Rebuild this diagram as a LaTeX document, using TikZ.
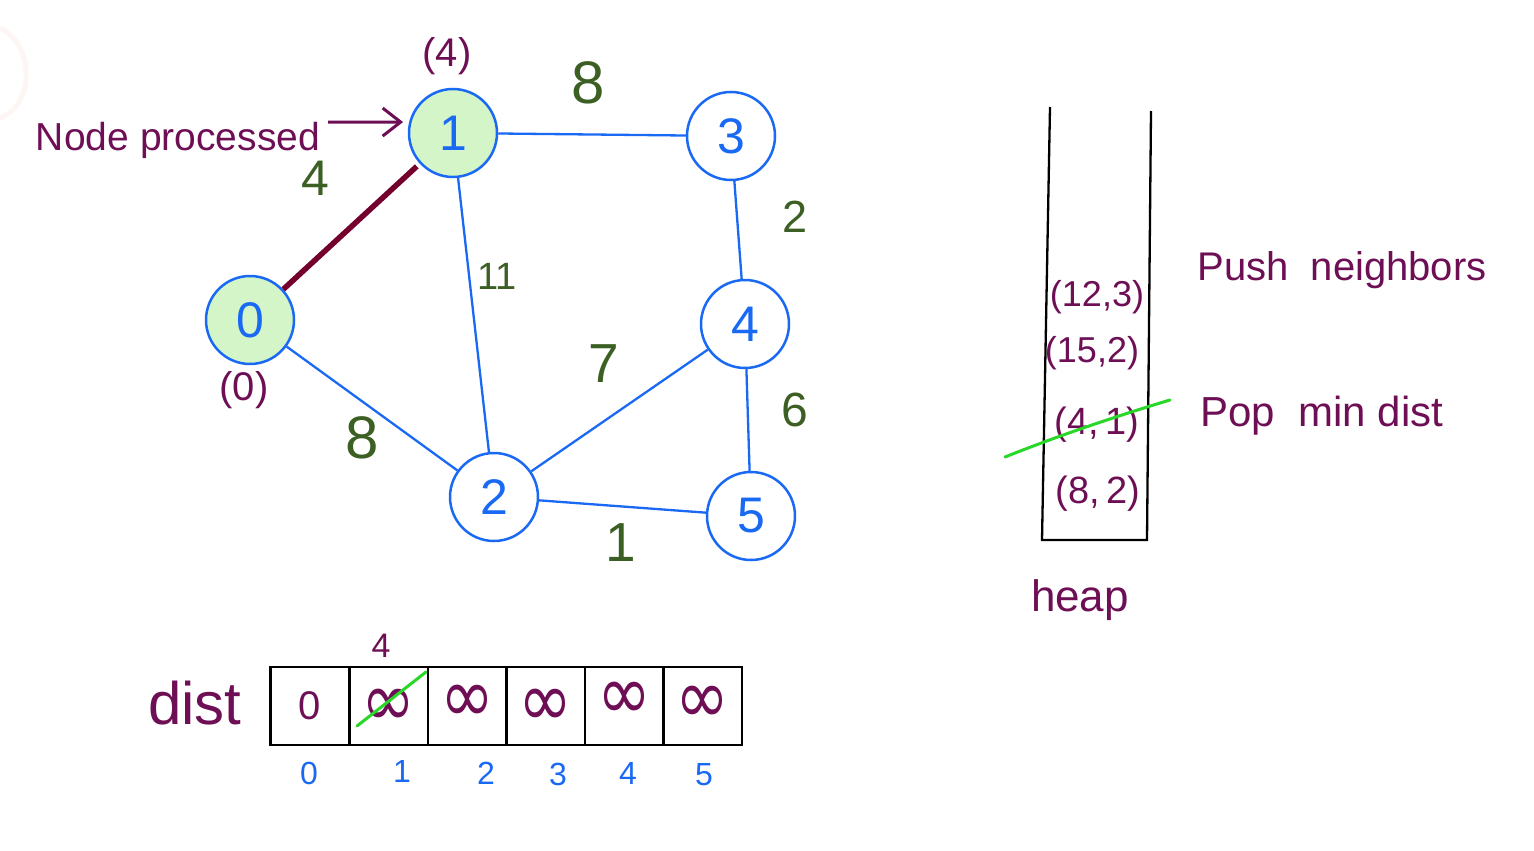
\documentclass[tikz,border=0pt]{standalone}
\usepackage{fontspec}
\setmainfont{Liberation Sans}
\newfontfamily\djfont{DejaVu Sans}
\usetikzlibrary{arrows.meta}
\definecolor{nblue}{RGB}{25,105,245}
\definecolor{nfill}{RGB}{212,245,200}
\definecolor{mar}{RGB}{110,15,85}
\definecolor{tedge}{RGB}{115,0,45}
\definecolor{wgreen}{RGB}{60,95,35}
\definecolor{sgreen}{RGB}{40,215,40}
\newcommand{\fsz}[1]{\fontsize{#1}{#1}\selectfont}
\newcommand{\infsym}[1]{\raisebox{#1}[0pt][0pt]{\scalebox{1.35}[1.6]{\djfont\fsz{48}∞}}}
\begin{document}
\begin{tikzpicture}[x=1pt,y=-1pt,
  vert/.style={circle,draw=nblue,line width=2.5pt,minimum size=88pt,inner sep=0pt,text=nblue,font=\fsz{50}},
  done/.style={vert,fill=nfill},
  edge/.style={draw=nblue,line width=2.3pt},
  wlab/.style={text=wgreen,inner sep=0pt},
  mtext/.style={text=mar,inner sep=0pt},
  cell/.style={draw=black,line width=2.5pt,minimum width=78.5pt,minimum height=78pt,inner sep=0pt,text=mar},
  idx/.style={text=nblue,inner sep=0pt,font=\fsz{32}},
  strike/.style={draw=sgreen,line width=3pt,line cap=round}]
\useasboundingbox (0,0) rectangle (1534,851);
\fill[white] (0,0) rectangle (1534,851);
% faint artifact
\draw[color={rgb,255:red,254;green,246;blue,244},line width=5pt] (0,28) .. controls (35,45) and (35,105) .. (0,118);

% vertices
\node[done] (n0) at (250,320) {0};
\node[done] (n1) at (453,133) {1};
\node[vert] (n3) at (731,136) {3};
\node[vert] (n4) at (745,324) {4};
\node[vert] (n2) at (494,497) {2};
\node[vert] (n5) at (751,516) {5};

% edges
\draw[edge] (n1) -- (n3);
\draw[edge] (n3) -- (n4);
\draw[edge] (n1) -- (n2);
\draw[edge] (n0) -- (n2);
\draw[edge] (n2) -- (n4);
\draw[edge] (n4) -- (n5);
\draw[edge] (n2) -- (n5);
\draw[draw=tedge,line width=5.5pt,shorten >=4pt] (n0) -- (n1);

% weights
\node[wlab,font=\fsz{60}] (w13) at (588,83) {8};
\node[wlab,font=\fsz{50}] (w01) at (315,178) {4};
\node[wlab,font=\fsz{45}] (w34) at (795,217) {2};
\node[wlab,font=\fsz{38}] (w12) at (497,276) {11};
\node[wlab,font=\fsz{55}] (w24) at (604,364) {7};
\node[wlab,font=\fsz{60}] (w02) at (362,438) {8};
\node[wlab,font=\fsz{48}] (w45) at (795,410) {6};
\node[wlab,font=\fsz{55}] (w25) at (621,543) {1};

% distance labels
\node[mtext,font=\fsz{40}] (d1) at (447,56) {(4)};
\node[mtext,font=\fsz{40}] (d0) at (244,390) {(0)};

% node processed
\node[mtext,font=\fsz{39}] (np) at (178,140) {Node processed};
\coordinate (arS) at (328,122);
\draw[draw=mar,line width=3pt,shorten >=6pt,-{Straight Barb[length=18pt,width=28pt,line width=3pt]}] (arS) -- (n1.166);

% heap
\draw[black,line width=2.3pt] (1050,107) -- (1042,540) -- (1147,540) -- (1151,111);
\node[mtext,font=\fsz{36}] (h1) at (1097,297) {(12,3)};
\node[mtext,font=\fsz{36}] (h2) at (1092,353) {(15,2)};
\node[mtext,font=\fsz{38}] (h3) at (1097,425) {(4,\,1)};
\node[mtext,font=\fsz{38}] (h4) at (1098,494) {(8,\,2)};
\coordinate (sa) at (1005,457);
\coordinate (sb) at (1170,400);
\draw[strike] (sa) .. controls (1060,435) and (1120,415) .. (sb);
\node[mtext,font=\fsz{40}] (push) at (1342,270) {Push\ \ neighbors};
\node[mtext,font=\fsz{42}] (pop) at (1322,416) {Pop\ \ min dist};
\node[mtext,font=\fsz{44}] (heap) at (1080,600) {heap};

% dist array
\node[mtext,font=\fsz{60}] (distl) at (195,703) {dist};
\node[cell,font=\fsz{40}] (c0) at (309.5,706) {0};
\node[cell] (c1) at (388.5,706) {\infsym{-20pt}};
\node[cell] (c2) at (467,706) {\infsym{-16pt}};
\node[cell] (c3) at (545.5,706) {\infsym{-20pt}};
\node[cell] (c4) at (624,706) {\infsym{-13pt}};
\node[cell] (c5) at (702.5,706) {\infsym{-17pt}};
\node[mtext,font=\fsz{34},anchor=base] (new1) at (381,657) {4};
\coordinate (ta) at (357,726);
\coordinate (tb) at (426,672);
\draw[strike] (ta) -- (tb);

\node[idx] (i0) at (309,773) {0};
\node[idx] (i1) at (402,771) {1};
\node[idx] (i2) at (486,773) {2};
\node[idx] (i3) at (558,774) {3};
\node[idx] (i4) at (628,773) {4};
\node[idx] (i5) at (704,775) {5};
\end{tikzpicture}
\end{document}
